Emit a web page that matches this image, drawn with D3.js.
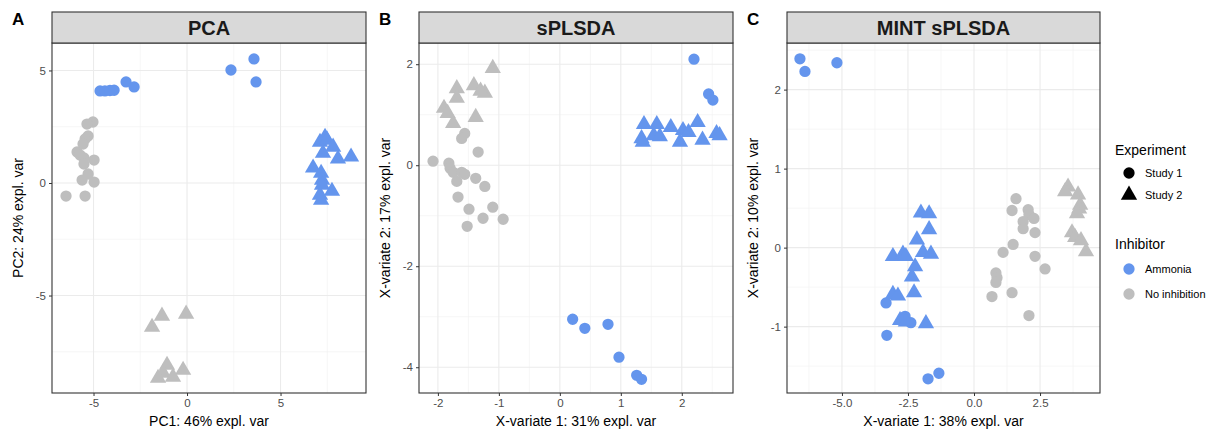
<!DOCTYPE html>
<html>
<head>
<meta charset="utf-8">
<script src="https://cdn.jsdelivr.net/npm/d3@7"></script>
<style>
  body { margin: 0; background: #fff; }
  text { font-family: "Liberation Sans", Arial, Helvetica, sans-serif; }
</style>
</head>
<body>
<svg id="fig" width="1213" height="435"></svg>
<script>
// ---- data ----
// PCA
var pcaAmmS1 = [[-4.65,4.09],[-4.39,4.09],[-4.12,4.11],[-3.9,4.12],[-3.26,4.49],[-2.83,4.27],[2.35,5.02],[3.58,5.51],[3.69,4.49]];
var pcaNoS1 = [[-5.03,2.71],[-5.35,2.62],[-5.29,2.09],[-5.45,1.96],[-5.56,1.73],[-5.88,1.38],[-5.72,1.24],[-5.51,1.11],[-4.97,1.02],[-5.51,0.84],[-5.29,0.4],[-5.61,0.13],[-4.97,0.04],[-6.47,-0.58],[-5.45,-0.58]];
var pcaAmmS2 = [[7.38,2.04],[7.11,1.82],[7.49,1.91],[7.81,1.6],[7.27,1.33],[8.07,1.07],[8.77,1.16],[6.74,0.67],[7.17,0.44],[7.22,0.13],[7.22,-0.09],[7.75,-0.36],[7.11,-0.53],[7.17,-0.76]];
var pcaNoS2 = [[-1.34,-5.91],[-1.87,-6.4],[-0.05,-5.82],[-1.07,-8.09],[-0.21,-8.31],[-1.28,-8.44],[-0.75,-8.62],[-1.55,-8.67]];

// sPLSDA
var splsAmmS1 = [[0.21,-3.05],[0.41,-3.23],[0.79,-3.15],[0.97,-3.8],[1.26,-4.16],[1.34,-4.24],[2.2,2.1],[2.44,1.41],[2.51,1.29]];
var splsNoS1 = [[-1.56,0.63],[-1.61,0.53],[-1.34,0.26],[-2.08,0.08],[-1.82,0.04],[-1.8,-0.06],[-1.75,-0.14],[-1.61,-0.14],[-1.56,-0.18],[-1.69,-0.32],[-1.38,-0.26],[-1.23,-0.42],[-1.67,-0.63],[-1.49,-0.87],[-1.1,-0.83],[-1.26,-1.05],[-0.93,-1.07],[-1.52,-1.21]];
var splsAmmS2 = [[1.38,0.81],[1.34,0.53],[1.36,0.46],[1.59,0.81],[1.54,0.59],[1.64,0.57],[1.82,0.75],[2.02,0.69],[1.97,0.46],[2.11,0.65],[2.26,0.85],[2.34,0.5],[2.57,0.63],[2.62,0.59]];
var splsNoS2 = [[-1.1,1.92],[-1.69,1.52],[-1.69,1.33],[-1.41,1.58],[-1.23,1.43],[-1.3,1.47],[-1.9,1.13],[-1.84,1.03],[-1.75,0.83],[-1.38,0.95]];

// MINT sPLSDA
var mintAmmS1 = [[-6.59,2.39],[-6.4,2.23],[-5.19,2.34],[-3.33,-0.7],[-3.3,-1.11],[-2.61,-0.87],[-2.39,-0.95],[-1.74,-1.66],[-1.33,-1.59]];
var mintNoS1 = [[1.59,0.62],[1.44,0.47],[2.05,0.48],[2.08,0.42],[2.27,0.37],[1.86,0.33],[1.86,0.24],[2.31,0.19],[1.48,0.04],[1.1,-0.06],[2.31,-0.11],[2.69,-0.27],[0.83,-0.32],[0.87,-0.38],[0.83,-0.44],[1.44,-0.57],[0.68,-0.62],[2.08,-0.86]];
var mintAmmS2 = [[-2.01,0.44],[-1.7,0.43],[-1.7,0.23],[-2.16,0.1],[-3.07,-0.11],[-2.69,-0.08],[-2.58,-0.11],[-1.93,-0.06],[-1.63,-0.08],[-2.23,-0.24],[-2.35,-0.37],[-3.07,-0.59],[-2.88,-0.61],[-2.27,-0.57],[-2.8,-0.92],[-2.58,-0.94],[-1.82,-0.96]];
var mintNoS2 = [[3.56,0.77],[3.45,0.71],[3.94,0.67],[4.02,0.54],[3.98,0.49],[3.9,0.43],[3.71,0.19],[3.83,0.13],[4.05,0.09],[4.24,-0.05]];

var experiments = ["Study 1", "Study 2"];
var inhibitors = ["Ammonia", "No inhibition"];

var svg = d3.select("#fig");
var blue = "#6495ED", grey = "#BEBEBE";
var colour = d3.scaleOrdinal().domain(inhibitors).range([blue, grey]);
var shape = d3.scaleOrdinal().domain(experiments).range([d3.symbolCircle, d3.symbolTriangle]);
var size = d3.scaleOrdinal().domain(experiments).range([100, 115]);

function panel(opt) {
  var g = svg.append("g");
  var top = 43, bottom = 393;
  var x = d3.scaleLinear().domain(opt.xDom).range([opt.left, opt.right]);
  var y = d3.scaleLinear().domain(opt.yDom).range([bottom, top]);

  // grid
  g.selectAll(".vminor").data(opt.xMinor).enter().append("line")
    .attr("x1", d => x(d)).attr("x2", d => x(d)).attr("y1", top).attr("y2", bottom)
    .attr("stroke", "#F2F2F2").attr("stroke-width", 0.7);
  g.selectAll(".hminor").data(opt.yMinor).enter().append("line")
    .attr("y1", d => y(d)).attr("y2", d => y(d)).attr("x1", opt.left).attr("x2", opt.right)
    .attr("stroke", "#F2F2F2").attr("stroke-width", 0.7);
  g.selectAll(".vmajor").data(opt.xTicks).enter().append("line")
    .attr("x1", d => x(d)).attr("x2", d => x(d)).attr("y1", top).attr("y2", bottom)
    .attr("stroke", "#EBEBEB").attr("stroke-width", 1.1);
  g.selectAll(".hmajor").data(opt.yTicks).enter().append("line")
    .attr("y1", d => y(d)).attr("y2", d => y(d)).attr("x1", opt.left).attr("x2", opt.right)
    .attr("stroke", "#EBEBEB").attr("stroke-width", 1.1);

  // points
  opt.series.forEach(function(s) {
    g.selectAll(null).data(s.data).enter().append("path")
      .attr("transform", d => "translate(" + x(d[0]) + "," + y(d[1]) + ")")
      .attr("d", d3.symbol().type(shape(s.exp)).size(size(s.exp)))
      .attr("fill", colour(s.inh));
  });

  // border
  g.append("rect").attr("x", opt.left).attr("y", top)
    .attr("width", opt.right - opt.left).attr("height", bottom - top)
    .attr("fill", "none").attr("stroke", "#333").attr("stroke-width", 1.1);

  // strip
  g.append("rect").attr("x", opt.left).attr("y", 12)
    .attr("width", opt.right - opt.left).attr("height", top - 12)
    .attr("fill", "#D9D9D9").attr("stroke", "#333").attr("stroke-width", 1.1);
  g.append("text").attr("x", (opt.left + opt.right) / 2).attr("y", 35)
    .attr("text-anchor", "middle").attr("font-size", 20).attr("font-weight", "bold")
    .attr("fill", "#1A1A1A").text(opt.title);

  // tag
  svg.append("text").attr("x", opt.left - 40).attr("y", 25)
    .attr("font-size", 17).attr("font-weight", "bold").text(opt.tag);

  // axes
  var xa = g.append("g").attr("transform", "translate(0," + bottom + ")")
    .call(d3.axisBottom(x).tickValues(opt.xTicks).tickFormat(opt.fmt).tickSize(3).tickPadding(3));
  var ya = g.append("g").attr("transform", "translate(" + opt.left + ",0)")
    .call(d3.axisLeft(y).tickValues(opt.yTicks).tickFormat(d => String(d)).tickSize(3).tickPadding(3));
  [xa, ya].forEach(function(a) {
    a.select(".domain").remove();
    a.selectAll(".tick line").attr("stroke", "#333");
    a.selectAll(".tick text").attr("fill", "#4D4D4D").attr("font-size", 11.5)
      .style("font-family", '"Liberation Sans", Arial, sans-serif');
  });

  g.append("text").attr("x", (opt.left + opt.right) / 2).attr("y", 426)
    .attr("text-anchor", "middle").attr("font-size", 14).text(opt.xLab);
  g.append("text")
    .attr("transform", "translate(" + (opt.left - 29) + "," + ((top + bottom) / 2) + ") rotate(-90)")
    .attr("text-anchor", "middle").attr("font-size", 14).text(opt.yLab);
}

panel({
  tag: "A", title: "PCA", left: 52, right: 366,
  xDom: [-7.22, 9.57], yDom: [-9.33, 6.22],
  xTicks: [-5, 0, 5], yTicks: [-5, 0, 5],
  xMinor: [-2.5, 2.5, 7.5], yMinor: [-7.5, -2.5, 2.5],
  fmt: d => String(d),
  xLab: "PC1: 46% expl. var", yLab: "PC2: 24% expl. var",
  series: [
    { data: pcaNoS1, exp: "Study 1", inh: "No inhibition" },
    { data: pcaNoS2, exp: "Study 2", inh: "No inhibition" },
    { data: pcaAmmS1, exp: "Study 1", inh: "Ammonia" },
    { data: pcaAmmS2, exp: "Study 2", inh: "Ammonia" }
  ]
});

panel({
  tag: "B", title: "sPLSDA", left: 419, right: 733,
  xDom: [-2.31, 2.84], yDom: [-4.51, 2.42],
  xTicks: [-2, -1, 0, 1, 2], yTicks: [-4, -2, 0, 2],
  xMinor: [-1.5, -0.5, 0.5, 1.5, 2.5], yMinor: [-3, -1, 1],
  fmt: d => String(d),
  xLab: "X-variate 1: 31% expl. var", yLab: "X-variate 2: 17% expl. var",
  series: [
    { data: splsNoS1, exp: "Study 1", inh: "No inhibition" },
    { data: splsNoS2, exp: "Study 2", inh: "No inhibition" },
    { data: splsAmmS1, exp: "Study 1", inh: "Ammonia" },
    { data: splsAmmS2, exp: "Study 2", inh: "Ammonia" }
  ]
});

panel({
  tag: "C", title: "MINT sPLSDA", left: 787, right: 1100,
  xDom: [-7.08, 4.77], yDom: [-1.84, 2.59],
  xTicks: [-5, -2.5, 0, 2.5], yTicks: [-1, 0, 1, 2],
  xMinor: [-6.25, -3.75, -1.25, 1.25, 3.75], yMinor: [-1.5, -0.5, 0.5, 1.5, 2.5],
  fmt: d => d.toFixed(1),
  xLab: "X-variate 1: 38% expl. var", yLab: "X-variate 2: 10% expl. var",
  series: [
    { data: mintNoS1, exp: "Study 1", inh: "No inhibition" },
    { data: mintNoS2, exp: "Study 2", inh: "No inhibition" },
    { data: mintAmmS1, exp: "Study 1", inh: "Ammonia" },
    { data: mintAmmS2, exp: "Study 2", inh: "Ammonia" }
  ]
});

// legend
var leg = svg.append("g");
leg.append("text").attr("x", 1115).attr("y", 155).attr("font-size", 14).text("Experiment");
experiments.forEach(function(e, i) {
  var yy = 173 + i * 22;
  leg.append("path").attr("transform", "translate(1129," + yy + ")")
    .attr("d", d3.symbol().type(shape(e)).size(size(e))).attr("fill", "#000");
  leg.append("text").attr("x", 1145).attr("y", yy + 4).attr("font-size", 11).text(e);
});
leg.append("text").attr("x", 1115).attr("y", 249).attr("font-size", 14).text("Inhibitor");
inhibitors.forEach(function(h, i) {
  var yy = 269 + i * 25;
  leg.append("path").attr("transform", "translate(1129," + yy + ")")
    .attr("d", d3.symbol().type(d3.symbolCircle).size(100)).attr("fill", colour(h));
  leg.append("text").attr("x", 1145).attr("y", yy + 4).attr("font-size", 11).text(h);
});
</script>
</body>
</html>
